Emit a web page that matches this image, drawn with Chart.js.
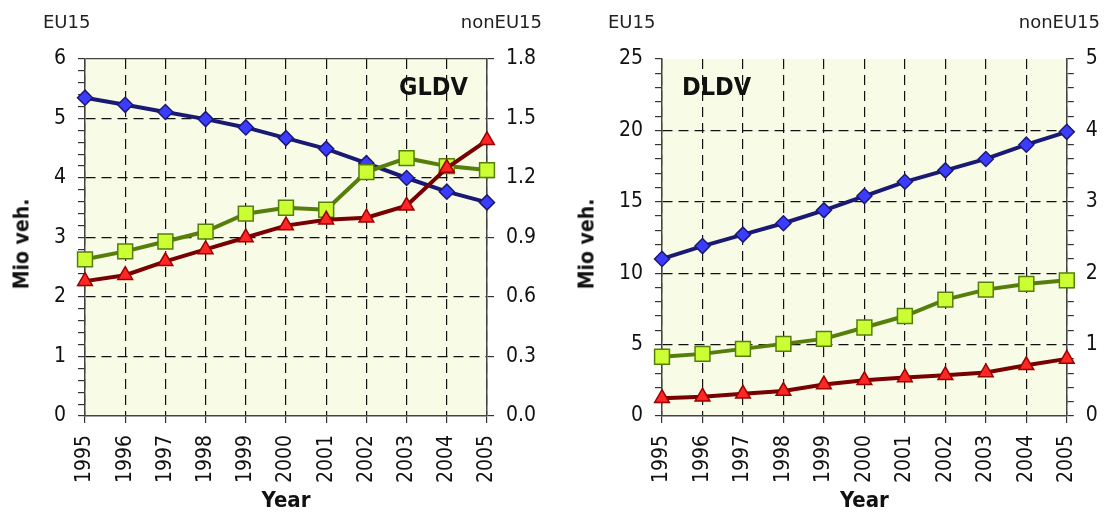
<!DOCTYPE html>
<html>
<head>
<meta charset="utf-8">
<script src="https://cdn.jsdelivr.net/npm/chart.js@4.4.0/dist/chart.umd.min.js"></script>
<style>
  body { margin: 0; background: #fff; }
  #wrap { position: relative; width: 1104px; height: 513px; overflow: hidden; }
  canvas { position: absolute; top: 0; }
  #cGldv { left: 0; }
  #cDldv { left: 552px; }
  .lbl { position: absolute; font-family: "DejaVu Sans", sans-serif; color: #222; white-space: nowrap; line-height: 1; }
  .small { font-size: 18px; }
  .axisTitle { font-family: "DejaVu Sans Condensed", "DejaVu Sans", sans-serif; font-weight: bold; font-size: 21px; color: #111; transform: translate(-50%, -50%) rotate(-90deg); }
  .panelName { font-family: "DejaVu Sans Condensed", "DejaVu Sans", sans-serif; font-weight: bold; font-size: 25px; color: #111; }
</style>
</head>
<body>
<div id="wrap">
  <canvas id="cGldv" width="552" height="513"></canvas>
  <canvas id="cDldv" width="552" height="513"></canvas>

  <div class="lbl small" style="left:43px; top:13px;">EU15</div>
  <div class="lbl small" style="right:562px; top:13px;">nonEU15</div>
  <div class="lbl axisTitle" style="left:22px; top:244px;">Mio veh.</div>
  <div class="lbl panelName" style="left:399px; top:74px;">GLDV</div>

  <div class="lbl small" style="left:608px; top:13px;">EU15</div>
  <div class="lbl small" style="right:4px; top:13px;">nonEU15</div>
  <div class="lbl axisTitle" style="left:587px; top:244px;">Mio veh.</div>
  <div class="lbl panelName" style="left:682px; top:74px;">DLDV</div>
</div>

<script>
const years = ['1995', '1996', '1997', '1998', '1999', '2000', '2001', '2002', '2003', '2004', '2005'];

// GLDV panel: blue on the EU15 axis, green and red on the nonEU15 axis
const gldvEu15 = [5.35, 5.23, 5.11, 4.99, 4.85, 4.67, 4.49, 4.25, 4.00, 3.77, 3.59];
const gldvNonEuGreen = [0.79, 0.83, 0.88, 0.93, 1.02, 1.05, 1.04, 1.23, 1.30, 1.26, 1.24];
const gldvNonEuRed = [0.68, 0.71, 0.78, 0.84, 0.90, 0.96, 0.99, 1.00, 1.06, 1.25, 1.39];

// DLDV panel
const dldvEu15 = [11.0, 11.9, 12.7, 13.5, 14.4, 15.4, 16.4, 17.2, 18.0, 19.0, 19.9];
const dldvNonEuGreen = [0.83, 0.87, 0.94, 1.01, 1.08, 1.24, 1.40, 1.63, 1.77, 1.85, 1.90];
const dldvNonEuRed = [0.25, 0.27, 0.31, 0.35, 0.44, 0.50, 0.54, 0.57, 0.61, 0.71, 0.80];

// axis ranges: [max, minor step, major step]
const gldvLeftAxis = [6, 0.2, 1];
const gldvRightAxis = [1.8, 0.3, 0.3];
const dldvLeftAxis = [25, 1, 5];
const dldvRightAxis = [5, 0.2, 1];

const FONT = '"DejaVu Sans Condensed", "DejaVu Sans", sans-serif';
const INK = '#111';
const AXIS = '#444';
const CLEAR = 'rgba(0,0,0,0)';
const DASH = [10, 6];

const isMajor = (v, every) => Math.abs(v / every - Math.round(v / every)) < 1e-6;

const plotBg = {
  id: 'plotBg',
  beforeDraw(chart) {
    const { ctx, chartArea: a } = chart;
    ctx.save();
    ctx.fillStyle = '#f8fce6';
    ctx.fillRect(a.left, a.top, a.width, a.height);
    ctx.restore();
  }
};

function yAxis(pos, range, width, drawArea, topLine, digits) {
  const [max, step, major] = range;
  return {
    position: pos,
    min: 0,
    max: max,
    afterFit: s => { s.width = width; },
    grid: {
      drawOnChartArea: drawArea,
      color: c => {
        if (!c.tick) return CLEAR;
        const v = c.tick.value;
        if (v === 0 || !isMajor(v, major)) return CLEAR;
        if (Math.abs(v - max) < 1e-6) return topLine ? AXIS : CLEAR;
        return INK;
      },
      lineWidth: 1.2,
      tickLength: 7,
      tickColor: '#333',
      tickWidth: 1.2
    },
    border: {
      color: AXIS,
      width: 1.5,
      dash: c => (c.tick && Math.abs(c.tick.value - max) < 1e-6) ? [] : DASH
    },
    ticks: {
      stepSize: step,
      maxTicksLimit: 200,
      autoSkip: false,
      padding: 12,
      color: INK,
      font: { family: FONT, size: 21 },
      callback: v => isMajor(v, major) ? v.toFixed(digits) : ''
    }
  };
}

function makePanel(id, o) {
  return new Chart(document.getElementById(id), {
    type: 'line',
    data: {
      labels: years,
      datasets: [
        {
          label: 'EU15', data: o.eu, yAxisID: 'yL', order: 3, clip: false,
          borderColor: '#1a1a75', borderWidth: 4, tension: 0,
          pointStyle: 'rectRot', pointRadius: 7.5,
          pointBackgroundColor: '#3c3cff', pointBorderColor: '#1a1a75', pointBorderWidth: 1.5
        },
        {
          label: 'nonEU15', data: o.green, yAxisID: 'yR', order: 2, clip: false,
          borderColor: '#557f0a', borderWidth: 4, tension: 0,
          pointStyle: 'rect', pointRadius: 10.5,
          pointBackgroundColor: '#ccff33', pointBorderColor: '#557f0a', pointBorderWidth: 1.5
        },
        {
          label: 'nonEU15 ', data: o.red, yAxisID: 'yR', order: 1, clip: false,
          borderColor: '#780000', borderWidth: 4, tension: 0,
          pointStyle: 'triangle', pointRadius: 8.5,
          pointBackgroundColor: '#ff2626', pointBorderColor: '#990000', pointBorderWidth: 1.5
        }
      ]
    },
    options: {
      responsive: false,
      animation: false,
      layout: { padding: { top: 59, left: 0, right: 0, bottom: 0 } },
      plugins: { legend: { display: false }, tooltip: { enabled: false } },
      scales: {
        x: {
          afterFit: s => { s.height = 97; },
          grid: { color: INK, lineWidth: 1.2, tickLength: 7, tickColor: '#333', tickWidth: 1.2 },
          border: { color: AXIS, width: 1.5, dash: DASH },
          ticks: {
            color: INK, font: { family: FONT, size: 21 },
            minRotation: 90, maxRotation: 90, autoSkip: false, padding: 12
          },
          title: {
            display: true, text: 'Year', color: INK,
            font: { family: FONT, size: 22, weight: 'bold', lineHeight: 1 },
            padding: { top: 0, bottom: 1 }
          }
        },
        yL: yAxis('left', o.left, o.leftW, true, o.topLine, 0),
        yR: yAxis('right', o.right, o.rightW, false, false, o.rightDigits)
      }
    },
    plugins: [plotBg]
  });
}

makePanel('cGldv', {
  eu: gldvEu15, green: gldvNonEuGreen, red: gldvNonEuRed,
  left: gldvLeftAxis, right: gldvRightAxis,
  leftW: 85, rightW: 65, topLine: true, rightDigits: 1
});

makePanel('cDldv', {
  eu: dldvEu15, green: dldvNonEuGreen, red: dldvNonEuRed,
  left: dldvLeftAxis, right: dldvRightAxis,
  leftW: 110, rightW: 35, topLine: false, rightDigits: 0
});
</script>
</body>
</html>
